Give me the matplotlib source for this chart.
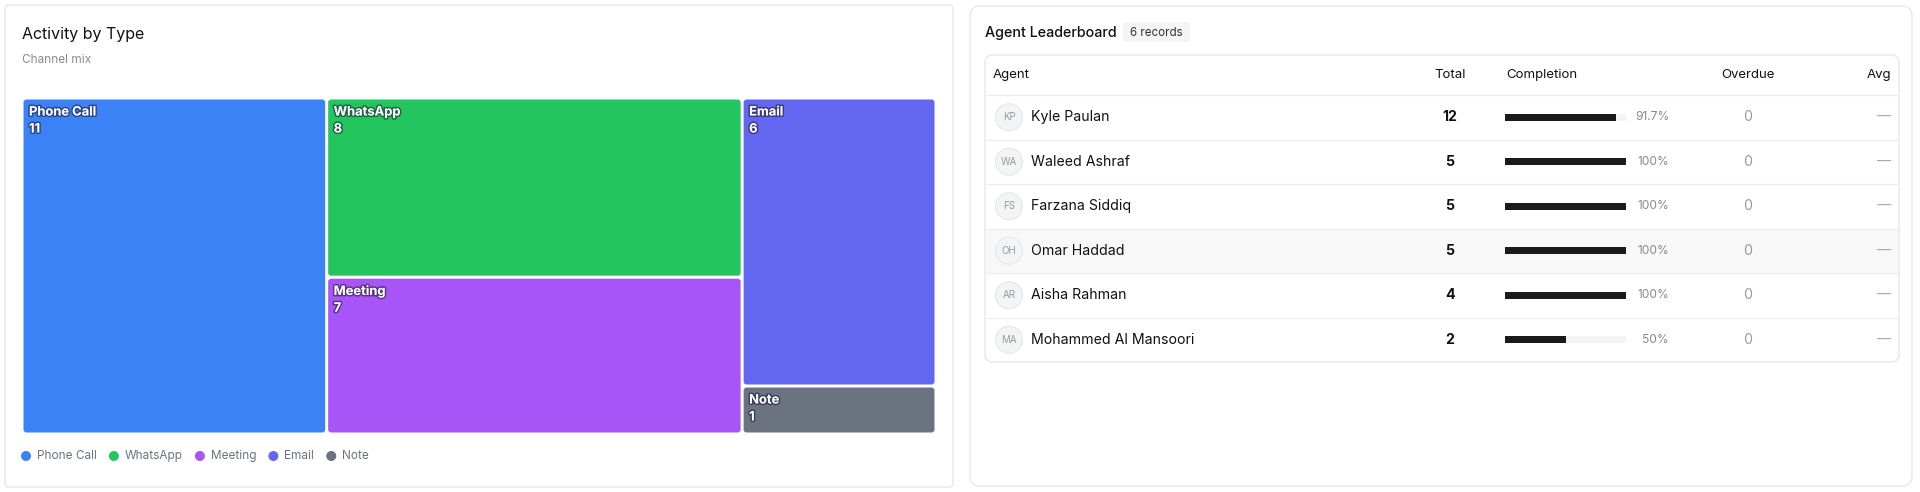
import matplotlib.pyplot as plt
from matplotlib.patches import FancyBboxPatch, Rectangle, Circle
import matplotlib.patheffects as pe

plt.rcParams['font.family'] = ['Inter', 'DejaVu Sans']

# activity treemap data
types = ['Phone Call', 'WhatsApp', 'Meeting', 'Email', 'Note']
counts = [11, 8, 7, 6, 1]
type_colors = ['#3b82f6', '#22c55e', '#a855f7', '#6366f1', '#6b7280']

# leaderboard data
agents = ['Kyle Paulan', 'Waleed Ashraf', 'Farzana Siddiq', 'Omar Haddad',
          'Aisha Rahman', 'Mohammed Al Mansoori']
initials = ['KP', 'WA', 'FS', 'OH', 'AR', 'MA']
totals = [12, 5, 5, 5, 4, 2]
completion = [91.7, 100, 100, 100, 100, 50]
overdue = [0, 0, 0, 0, 0, 0]

W, H = 1920, 492
fig = plt.figure(figsize=(W / 100, H / 100), dpi=100)
fig.patch.set_facecolor('white')


def px_axes(x, y, w, h, **kw):
    return fig.add_axes([x / W, 1 - (y + h) / H, w / W, h / H], **kw)


bg = px_axes(0, 0, W, H)
bg.set_xlim(0, W)
bg.set_ylim(H, 0)
bg.axis('off')


def card(x0, y0, x1, y1, r, ec='#e5e7eb', fc='white', z=0):
    bg.add_patch(FancyBboxPatch((x0, y0), x1 - x0, y1 - y0,
                                boxstyle='round,pad=0,rounding_size=%s' % r,
                                fc=fc, ec=ec, lw=1, zorder=z))


# ---------- left card: treemap ----------
card(5, 5, 953, 487, 4)
bg.text(22, 35, 'Activity by Type', fontsize=11.5, color='#111111', va='center')
bg.text(22, 60, 'Channel mix', fontsize=8.5, color='#8a8a8a', va='center')

tm_x, tm_y, tm_w, tm_h = 22, 98, 914, 336
tm = px_axes(tm_x, tm_y, tm_w, tm_h)
tm.set_xlim(0, tm_w)
tm.set_ylim(tm_h, 0)
tm.axis('off')


def squarify(values, x, y, w, h, ratio=(1 + 5 ** 0.5) / 2):
    scale = w * h / sum(values)
    remaining = [(i, v * scale) for i, v in enumerate(values)]
    rects = [None] * len(values)
    rect = [x, y, w, h]

    def worst(row, side):
        area = sum(a for _, a in row)
        mx = max(a for _, a in row)
        mn = min(a for _, a in row)
        return max(side * side * mx * ratio / area ** 2,
                   area ** 2 / (side * side * mn * ratio))

    def place(row):
        area = sum(a for _, a in row)
        rx, ry, rw, rh = rect
        if rw >= rh:
            cw = area / rh
            yy = ry
            for i, a in row:
                rects[i] = (rx, yy, cw, a / cw)
                yy += a / cw
            rect[:] = [rx + cw, ry, rw - cw, rh]
        else:
            ch = area / rw
            xx = rx
            for i, a in row:
                rects[i] = (xx, ry, a / ch, ch)
                xx += a / ch
            rect[:] = [rx, ry + ch, rw, rh - ch]

    row, best = [], float('inf')
    while remaining:
        side = min(rect[2], rect[3])
        cand = row + [remaining[0]]
        score = worst(cand, side)
        if score <= best:
            row = cand
            remaining.pop(0)
            best = score
        else:
            place(row)
            row, best = [], float('inf')
    if row:
        place(row)
    return rects


gap = 1.5
outline = [pe.withStroke(linewidth=2.2, foreground=(0.1, 0.1, 0.2, 0.55))]
for name, val, col, (x, y, w, h) in zip(types, counts, type_colors,
                                         squarify(counts, 0, 0, tm_w, tm_h)):
    tm.add_patch(FancyBboxPatch((x + gap, y + gap), w - 2 * gap, h - 2 * gap,
                                boxstyle='round,pad=0,rounding_size=3',
                                fc=col, ec='none'))
    tm.text(x + 7, y + 14.5, name, color='white', fontsize=9.3, fontweight='bold',
            va='center', path_effects=outline)
    tm.text(x + 7, y + 31.5, str(val), color='white', fontsize=9.3,
            fontweight='bold', va='center', path_effects=outline)

# legend, items placed one after another by measured text width
renderer = fig.canvas.get_renderer()
lx = 26
for name, col in zip(types, type_colors):
    bg.add_patch(Circle((lx, 456), 5, fc=col, ec='none'))
    t = bg.text(lx + 11, 456, name, fontsize=8.5, color='#6b7280', va='center')
    ext = t.get_window_extent(renderer)
    lx = ext.x1 + 17

# ---------- right card: leaderboard ----------
card(970, 6, 1912, 486, 10)
bg.text(985, 33, 'Agent Leaderboard', fontsize=10.3, color='#111111',
        va='center', fontweight='medium')
card(1123, 22, 1190, 42, 3, ec='none', fc='#f3f4f6')
bg.text(1156.5, 32.5, '6 records', fontsize=8.3, color='#333333', va='center', ha='center')

card(985, 55, 1899, 362, 8)
head_y = 75
bg.text(993, head_y, 'Agent', fontsize=9.5, color='#111111', va='center')
bg.text(1450, head_y, 'Total', fontsize=9.5, color='#111111', va='center', ha='center')
bg.text(1506, head_y, 'Completion', fontsize=9.5, color='#111111', va='center')
bg.text(1748, head_y, 'Overdue', fontsize=9.5, color='#111111', va='center', ha='center')
bg.text(1891, head_y, 'Avg', fontsize=9.5, color='#111111', va='center', ha='right')

top, rh = 95, 44.5
bg.plot([986, 1898], [top, top], color='#eeeeee', lw=1)
for i in range(len(agents)):
    cy = top + rh * (i + 0.5)
    if i == 3:
        bg.add_patch(Rectangle((986, top + rh * i), 912, rh, fc='#f8f8f8', ec='none'))
    if i < len(agents) - 1:
        bg.plot([986, 1898], [top + rh * (i + 1)] * 2, color='#eeeeee', lw=1)
    bg.add_patch(Circle((1009, cy), 13.5, fc='#f3f4f6', ec='#e5e7eb', lw=0.8))
    bg.text(1009, cy, initials[i], fontsize=7, color='#9a9a9a', va='center', ha='center')
    bg.text(1031, cy, agents[i], fontsize=10.2, color='#111111', va='center')
    bg.text(1450, cy, str(totals[i]), fontsize=10.2, color='#111111', va='center',
            ha='center', fontweight='bold')
    pct = ('%.1f' % completion[i]).rstrip('0').rstrip('.') + '%'
    bg.text(1669, cy, pct, fontsize=8.6, color='#8a8a8a', va='center', ha='right')
    bg.text(1748, cy, str(overdue[i]), fontsize=10.2, color='#9a9a9a', va='center', ha='center')
    bg.text(1891, cy, '—', fontsize=10.2, color='#aaaaaa', va='center', ha='right')

# completion bars
bx = px_axes(1505, top, 121, rh * len(agents))
bx.set_xlim(0, 100)
bx.set_ylim(len(agents) - 0.5, -0.5)
bx.axis('off')
rows = list(range(len(agents)))
bx.barh(rows, [100] * len(agents), height=0.155, color='#f3f4f6')
bx.barh(rows, completion, height=0.155, color='#1a1a1a')

fig.savefig('out.png', dpi=100, facecolor='white')
